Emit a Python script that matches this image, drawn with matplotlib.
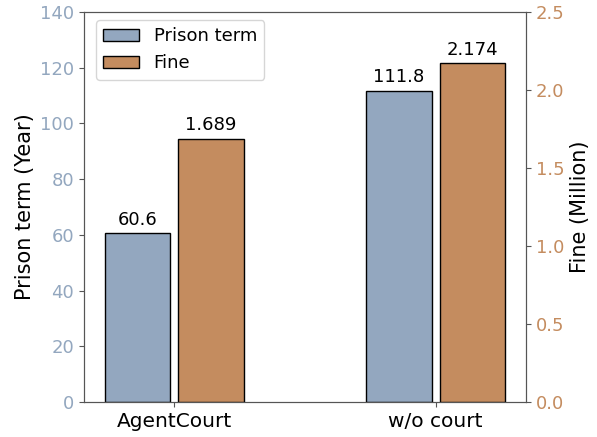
import matplotlib
matplotlib.use("Agg")
import matplotlib.pyplot as plt
import numpy as np

categories = ["AgentCourt", "w/o court"]
prison_term = [60.6, 111.8]
fine = [1.689, 2.174]
prison_labels = ["60.6", "111.8"]
fine_labels = ["1.689", "2.174"]

blue = "#93a7bf"
orange = "#c48c5f"
spine_c = "#555555"

fig = plt.figure(figsize=(5.97, 4.37), dpi=100)
ax = fig.add_axes([0.1407, 0.080, 0.7403, 0.8925])
ax2 = ax.twinx()

x = np.arange(len(categories))
w = 0.25
off = 0.14
b1 = ax.bar(x - off, prison_term, w, color=blue, edgecolor="black", linewidth=1, label="Prison term")
b2 = ax2.bar(x + off, fine, w, color=orange, edgecolor="black", linewidth=1, label="Fine")

for rect, lab in zip(b1, prison_labels):
    ax.text(rect.get_x() + rect.get_width() / 2, rect.get_height() + 1.5, lab,
            ha="center", va="bottom", fontsize=13)
for rect, lab in zip(b2, fine_labels):
    ax2.text(rect.get_x() + rect.get_width() / 2, rect.get_height() + 0.027, lab,
             ha="center", va="bottom", fontsize=13)

ax.set_ylim(0, 140)
ax2.set_ylim(0, 2.5)
ax.set_xlim(-0.345, 1.345)
ax.set_xticks(x)
ax.set_xticklabels(categories, fontsize=14.5)
ax.set_ylabel("Prison term (Year)", fontsize=15)
ax2.set_ylabel("Fine (Million)", fontsize=15)
ax.tick_params(axis="y", labelsize=13, labelcolor=blue, color=spine_c)
ax.tick_params(axis="x", color=spine_c)
ax2.tick_params(axis="y", labelsize=13, labelcolor=orange, color=spine_c)
for a in (ax, ax2):
    for s in a.spines.values():
        s.set_color(spine_c)

ax.legend(handles=[b1, b2], loc="upper left", fontsize=13,
          bbox_to_anchor=(0.027, 0.979), borderaxespad=0)

fig.savefig("out.png", dpi=100)
